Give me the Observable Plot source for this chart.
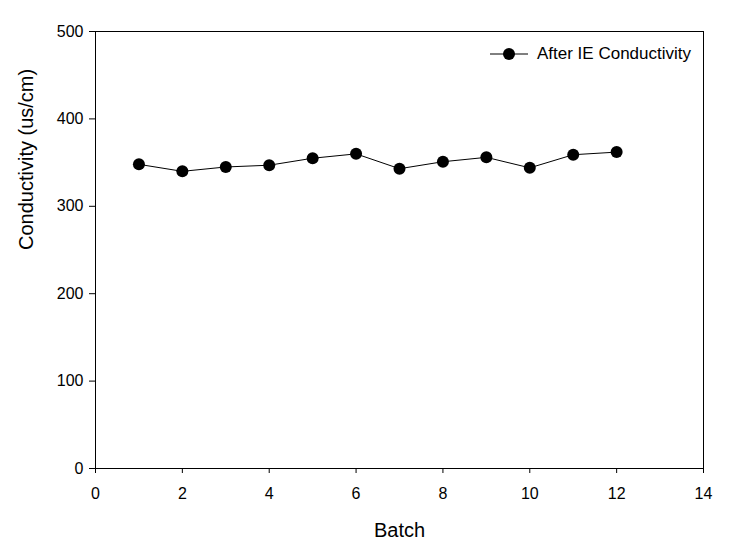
<!DOCTYPE html>
<html>
<head>
<meta charset="utf-8">
<script src="https://cdn.jsdelivr.net/npm/d3@7"></script>
<script src="https://cdn.jsdelivr.net/npm/@observablehq/plot@0.6"></script>
<style>
  html, body { margin: 0; padding: 0; background: #fff; }
  #wrap { position: relative; width: 737px; height: 547px; font-family: "Liberation Sans", Arial, sans-serif; }
  #legend { position: absolute; left: 488px; top: 44px; display: flex; align-items: center; font-size: 17px; color: #000; }
</style>
</head>
<body>
<div id="wrap">
  <div id="chart"></div>
  <div id="legend">
    <svg width="42" height="20"><line x1="2" y1="10" x2="40" y2="10" stroke="black" stroke-width="1"/><circle cx="21" cy="10" r="6" fill="black"/></svg>
    <span style="margin-left:7px">After IE Conductivity</span>
  </div>
</div>
<script>
const batches = [1, 2, 3, 4, 5, 6, 7, 8, 9, 10, 11, 12];
const conductivity = [348, 340, 345, 347, 355, 360, 343, 351, 356, 344, 359, 362];
const xTicks = [0, 2, 4, 6, 8, 10, 12, 14];
const yTicks = [0, 100, 200, 300, 400, 500];

const data = batches.map((b, i) => ({ batch: b, value: conductivity[i] }));

const chart = Plot.plot({
  width: 737,
  height: 547,
  marginLeft: 95,
  marginRight: 34,
  marginTop: 31,
  marginBottom: 79,
  style: { fontFamily: "'Liberation Sans', Arial, sans-serif", fontSize: "16px", color: "#000", background: "#fff" },
  x: { domain: [0, 14], ticks: xTicks, label: null },
  y: { domain: [0, 500], ticks: yTicks, label: null },
  marks: [
    Plot.frame({ stroke: "black", strokeWidth: 1 }),
    Plot.axisX({ ticks: xTicks, tickSize: 5, tickPadding: 14, fontSize: 16, stroke: "black", strokeOpacity: 1, label: null }),
    Plot.axisY({ ticks: yTicks, tickSize: 6, tickPadding: 6, fontSize: 16, stroke: "black", strokeOpacity: 1, label: null }),
    Plot.text(["Batch"], { frameAnchor: "bottom", dy: 68, fontSize: 20, fill: "black" }),
    Plot.text(["Conductivity (us/cm)"], { frameAnchor: "left", dx: -69, rotate: -90, fontSize: 20, fill: "black" }),
    Plot.line(data, { x: "batch", y: "value", stroke: "black", strokeWidth: 1 }),
    Plot.dot(data, { x: "batch", y: "value", r: 6, fill: "black", stroke: "none" })
  ]
});
document.getElementById("chart").appendChild(chart);
</script>
</body>
</html>
